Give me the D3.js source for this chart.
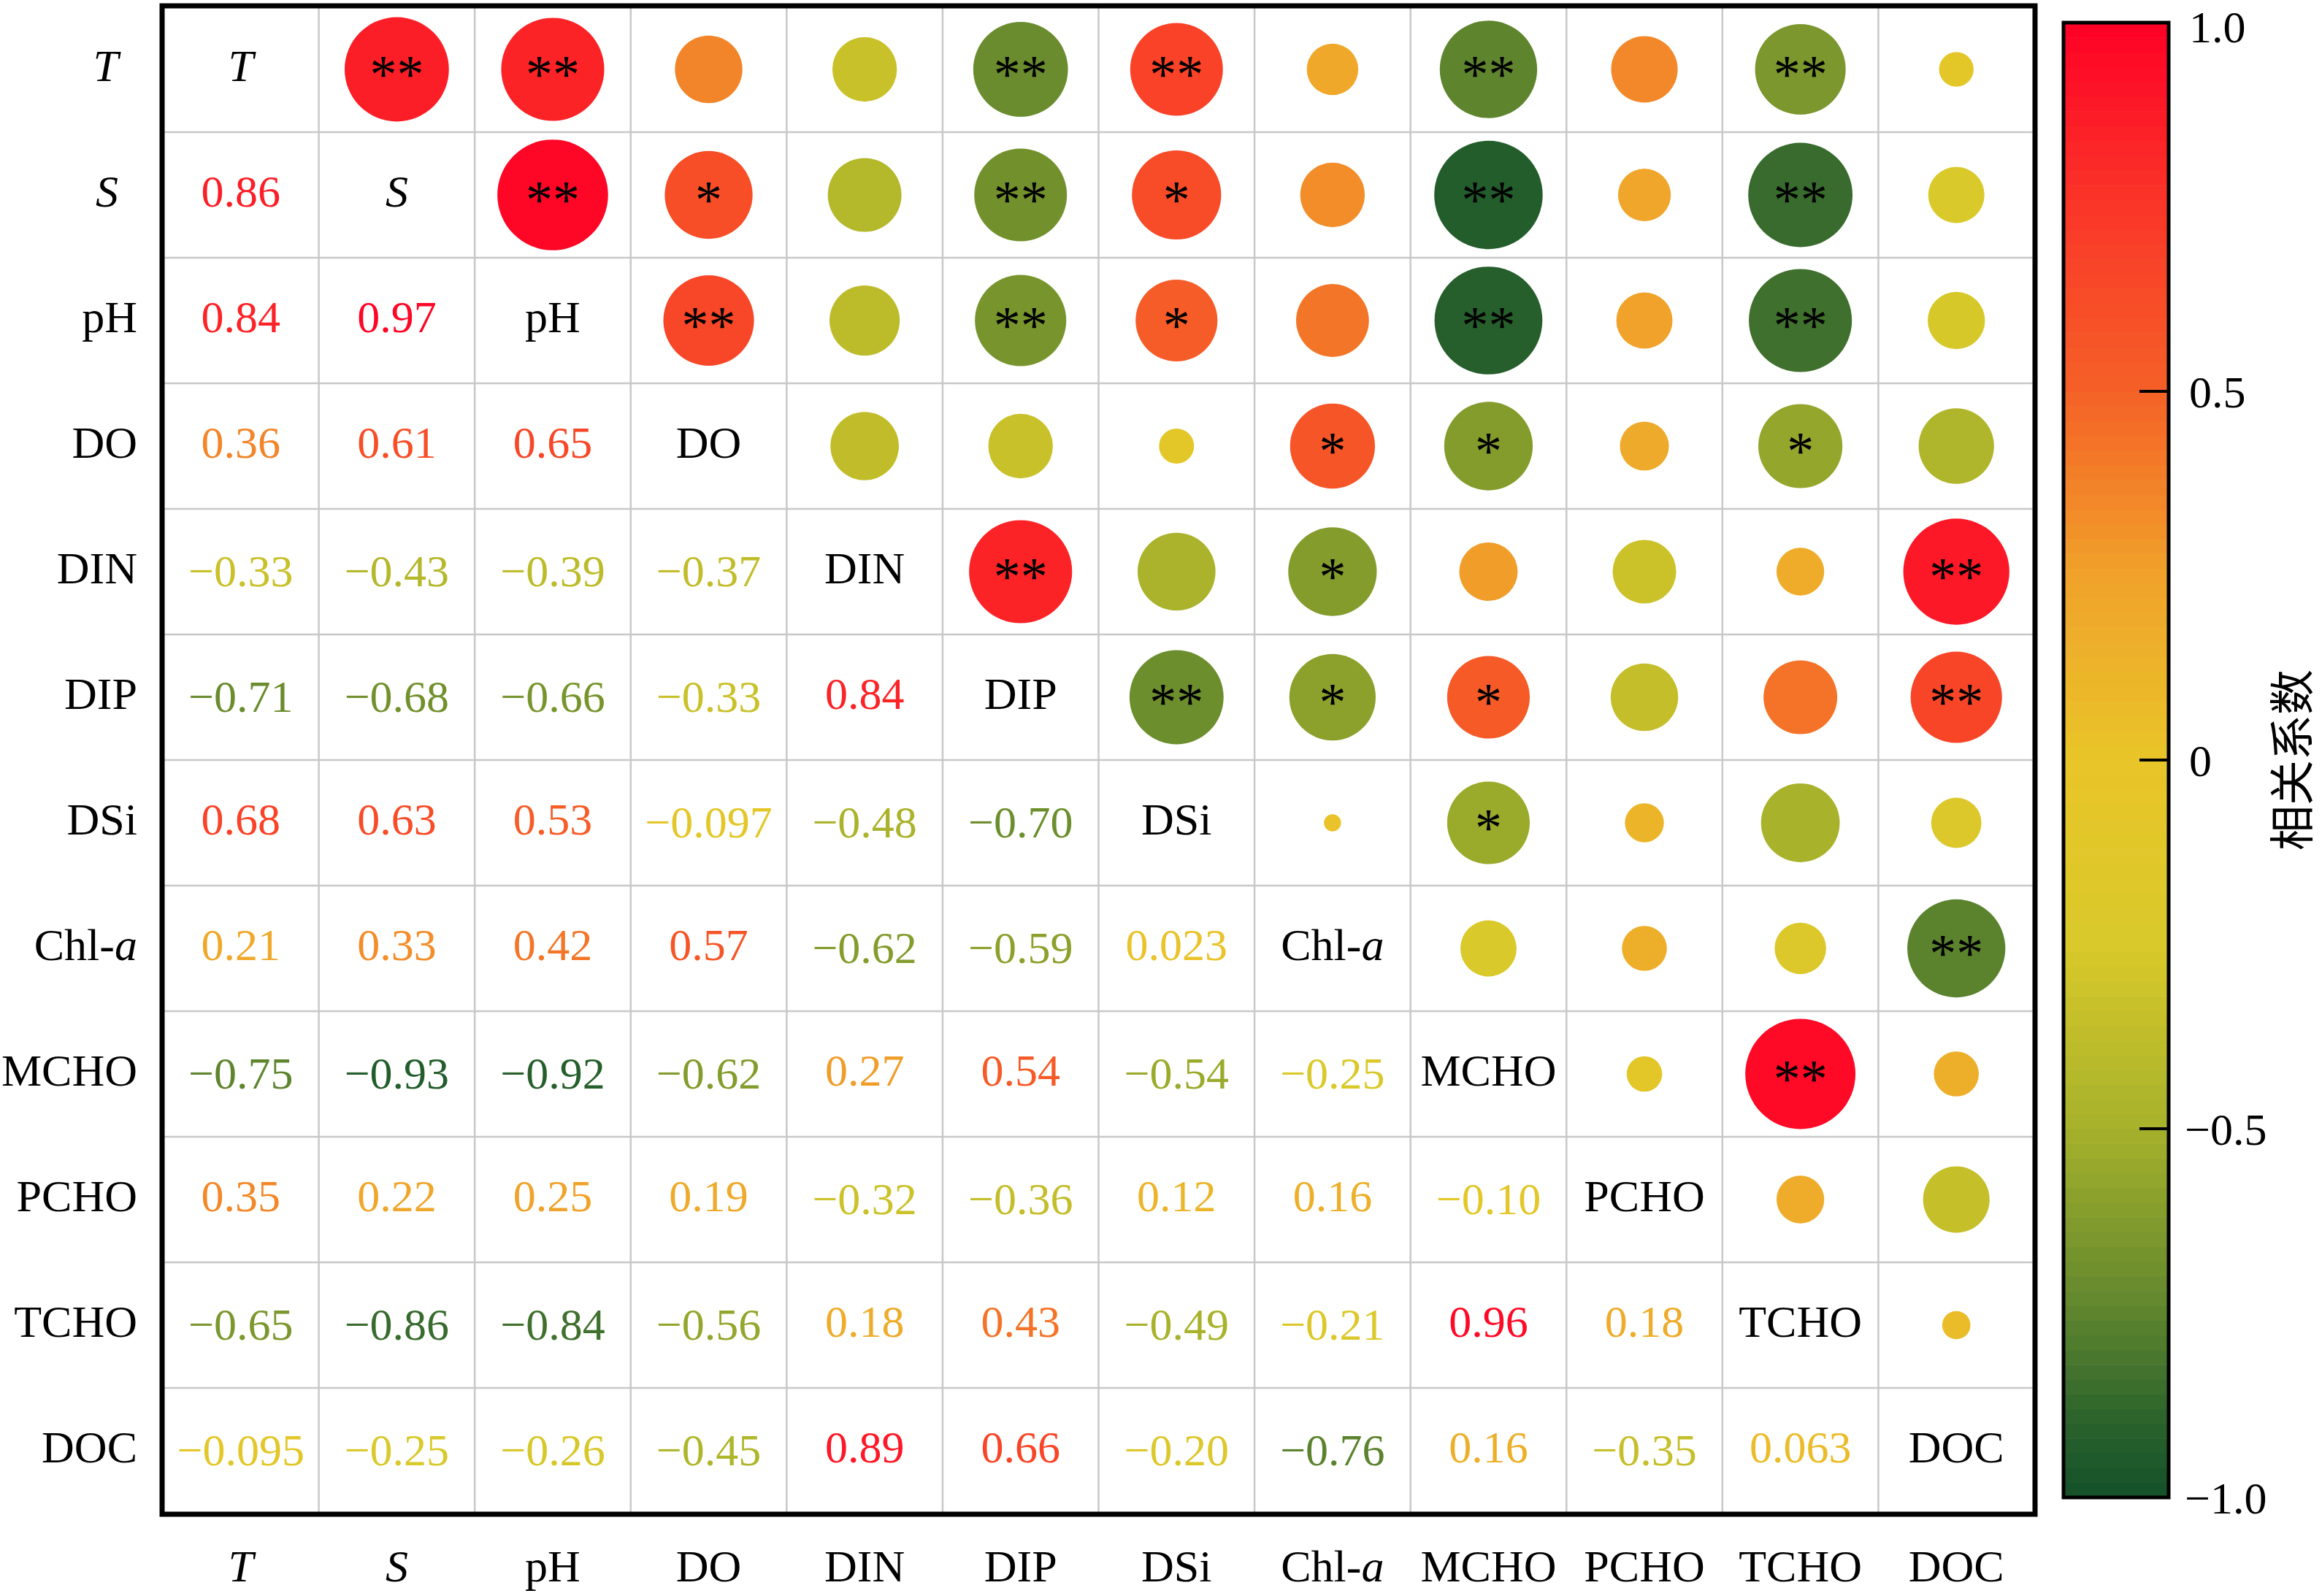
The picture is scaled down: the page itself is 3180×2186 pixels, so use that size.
<!DOCTYPE html>
<html>
<head>
<meta charset="utf-8">
<script src="https://cdn.jsdelivr.net/npm/d3@7"></script>
<style>
  body { margin: 0; background: #fff; }
  svg { display: block; font-family: "Liberation Serif", "Times New Roman", serif; }
</style>
</head>
<body>
<svg id="chart"></svg>
<script>
// variables, in matrix order
var labels = ['T', 'S', 'pH', 'DO', 'DIN', 'DIP', 'DSi', 'Chl-a', 'MCHO', 'PCHO', 'TCHO', 'DOC'];
var italicLabels = ['T', 'S'];

// lower triangle of the correlation matrix (row i, columns 0..i-1)
var corrLower = [
    [],
    [0.86],
    [0.84, 0.97],
    [0.36, 0.61, 0.65],
    [-0.33, -0.43, -0.39, -0.37],
    [-0.71, -0.68, -0.66, -0.33, 0.84],
    [0.68, 0.63, 0.53, -0.097, -0.48, -0.70],
    [0.21, 0.33, 0.42, 0.57, -0.62, -0.59, 0.023],
    [-0.75, -0.93, -0.92, -0.62, 0.27, 0.54, -0.54, -0.25],
    [0.35, 0.22, 0.25, 0.19, -0.32, -0.36, 0.12, 0.16, -0.10],
    [-0.65, -0.86, -0.84, -0.56, 0.18, 0.43, -0.49, -0.21, 0.96, 0.18],
    [-0.095, -0.25, -0.26, -0.45, 0.89, 0.66, -0.20, -0.76, 0.16, -0.35, 0.063]
];

// significance marks of the upper triangle (row i, columns i+1..11)
var sigUpper = [
    ['**', '**', '', '', '**', '**', '', '**', '', '**', ''],
    ['**', '*', '', '**', '*', '', '**', '', '**', ''],
    ['**', '', '**', '*', '', '**', '', '**', ''],
    ['', '', '', '*', '*', '', '*', ''],
    ['**', '', '*', '', '', '', '**'],
    ['**', '*', '*', '', '', '**'],
    ['', '*', '', '', ''],
    ['', '', '', '**'],
    ['', '**', ''],
    ['', ''],
    ['']
];

// colour bar
var colorStops = [-1, -0.9, -0.75, -0.5, -0.25, 0, 0.25, 0.5, 0.75, 1];
var colorRange = ['#14512b', '#2a622c', '#5e852e', '#a6b12b', '#d9c92a', '#e9c529', '#f0a22a', '#f56127', '#fa3628', '#ff0026'];
var colorTicks = [1.0, 0.5, 0, -0.5, -1.0];
var colorTitle = '相关系数';

// ---- layout ----
var W = 3180, H = 2186;
var plot = { left: 223, top: 9, right: 2786, bottom: 2073 };
var n = labels.length;

var svg = d3.select('#chart').attr('width', W).attr('height', H);

var x = d3.scaleBand().domain(d3.range(n)).range([plot.left, plot.right]);
var y = d3.scaleBand().domain(d3.range(n)).range([plot.top, plot.bottom]);
var color = d3.scaleLinear().domain(colorStops).range(colorRange);
var rScale = d3.scaleSqrt().domain([0, 1]).range([0, 77]);

// build the full cell list
var cells = [];
for (var i = 0; i < n; i++) {
    for (var j = 0; j < n; j++) {
        var v = i > j ? corrLower[i][j] : (i < j ? corrLower[j][i] : 1);
        var sig = i < j ? sigUpper[i][j - i - 1] : '';
        cells.push({ i: i, j: j, v: v, sig: sig });
    }
}

function fmt(v) {
    var a = Math.abs(v);
    var s = a < 0.1 ? d3.format('.2r')(a) : d3.format('.2f')(a);
    return (v < 0 ? '\u2212' : '') + s;
}

function writeLabel(sel, name) {
    if (name === 'Chl-a') {
        sel.append('tspan').text('Chl-');
        sel.append('tspan').attr('font-style', 'italic').text('a');
    } else {
        sel.text(name);
        if (italicLabels.indexOf(name) >= 0) sel.attr('font-style', 'italic');
    }
}

// grid lines
var grid = svg.append('g');
grid.selectAll('line.v')
    .data(d3.range(1, n))
    .enter().append('line')
    .attr('x1', function(d) { return x(d); })
    .attr('x2', function(d) { return x(d); })
    .attr('y1', plot.top).attr('y2', plot.bottom)
    .attr('stroke', '#c8c8c8').attr('stroke-width', 2.5);
grid.selectAll('line.h')
    .data(d3.range(1, n))
    .enter().append('line')
    .attr('y1', function(d) { return y(d); })
    .attr('y2', function(d) { return y(d); })
    .attr('x1', plot.left).attr('x2', plot.right)
    .attr('stroke', '#c8c8c8').attr('stroke-width', 2.5);

var cx = function(d) { return x(d.j) + x.bandwidth() / 2; };
var cy = function(d) { return y(d.i) + y.bandwidth() / 2; };

// upper triangle: circles
svg.append('g').selectAll('circle')
    .data(cells.filter(function(d) { return d.i < d.j; }))
    .enter().append('circle')
    .attr('cx', cx).attr('cy', cy)
    .attr('r', function(d) { return rScale(Math.abs(d.v)); })
    .attr('fill', function(d) { return color(d.v); });

svg.append('g').selectAll('text')
    .data(cells.filter(function(d) { return d.i < d.j && d.sig; }))
    .enter().append('text')
    .attr('x', cx)
    .attr('y', function(d) { return cy(d) + 32; })
    .attr('text-anchor', 'middle')
    .attr('font-size', 74)
    .attr('fill', '#000')
    .text(function(d) { return d.sig; });

// lower triangle: values
svg.append('g').selectAll('text')
    .data(cells.filter(function(d) { return d.i > d.j; }))
    .enter().append('text')
    .attr('x', cx)
    .attr('y', function(d) { return cy(d) + (d.v < 0 ? 20 : 16); })
    .attr('text-anchor', 'middle')
    .attr('font-size', 62)
    .attr('fill', function(d) { return color(d.v); })
    .text(function(d) { return fmt(d.v); });

// diagonal: names
svg.append('g').selectAll('text')
    .data(cells.filter(function(d) { return d.i === d.j; }))
    .enter().append('text')
    .attr('x', cx)
    .attr('y', function(d) { return cy(d) + 16; })
    .attr('text-anchor', 'middle')
    .attr('font-size', 62)
    .each(function(d) { writeLabel(d3.select(this), labels[d.i]); });

// row labels (left)
svg.append('g').selectAll('text')
    .data(d3.range(n))
    .enter().append('text')
    .attr('x', function(d) { return italicLabels.indexOf(labels[d]) >= 0 ? 162 : 188; })
    .attr('y', function(d) { return y(d) + y.bandwidth() / 2 + 16; })
    .attr('text-anchor', 'end')
    .attr('font-size', 62)
    .each(function(d) { writeLabel(d3.select(this), labels[d]); });

// column labels (bottom)
svg.append('g').selectAll('text')
    .data(d3.range(n))
    .enter().append('text')
    .attr('x', function(d) { return x(d) + x.bandwidth() / 2; })
    .attr('y', 2166)
    .attr('text-anchor', 'middle')
    .attr('font-size', 62)
    .each(function(d) { writeLabel(d3.select(this), labels[d]); });

// frame
svg.append('rect')
    .attr('x', plot.left - 1).attr('y', plot.top - 1)
    .attr('width', plot.right - plot.left + 2).attr('height', plot.bottom - plot.top + 2)
    .attr('fill', 'none').attr('stroke', '#000').attr('stroke-width', 7);

// ---- colour bar ----
var bar = { left: 2826, right: 2970, top: 31, bottom: 2051 };
var cScale = d3.scaleLinear().domain([-1, 1]).range([bar.bottom, bar.top]);
var nBands = 100;
var bands = d3.range(nBands).map(function(k) { return -1 + (k + 0.5) * 2 / nBands; });
var step = 2 / nBands;

svg.append('g').selectAll('rect')
    .data(bands)
    .enter().append('rect')
    .attr('x', bar.left)
    .attr('width', bar.right - bar.left)
    .attr('y', function(d) { return cScale(d + step / 2); })
    .attr('height', function(d) { return cScale(d - step / 2) - cScale(d + step / 2) + 0.6; })
    .attr('fill', function(d) { return color(d); });

svg.append('rect')
    .attr('x', bar.left).attr('y', bar.top)
    .attr('width', bar.right - bar.left).attr('height', bar.bottom - bar.top)
    .attr('fill', 'none').attr('stroke', '#000').attr('stroke-width', 5);

svg.append('g').selectAll('line')
    .data(colorTicks.filter(function(d) { return Math.abs(d) < 1; }))
    .enter().append('line')
    .attr('x1', bar.right - 40).attr('x2', bar.right)
    .attr('y1', cScale).attr('y2', cScale)
    .attr('stroke', '#000').attr('stroke-width', 4);

svg.append('g').selectAll('text')
    .data(colorTicks)
    .enter().append('text')
    .attr('x', function(d) { return d < 0 ? 2992 : 2998; })
    .attr('y', function(d) { return Math.max(cScale(d) + 22, 58); })
    .attr('font-size', 62)
    .text(function(d) {
        var s = d === 0 ? '0' : d3.format('.1f')(Math.abs(d));
        return (d < 0 ? '\u2212' : '') + s;
    });

svg.append('text')
    .attr('transform', 'translate(3140,' + cScale(0) + ') rotate(-90)')
    .attr('text-anchor', 'middle')
    .attr('dy', '0.35em')
    .attr('font-size', 62)
    .attr('font-family', '"Noto Sans CJK SC", sans-serif')
    .text(colorTitle);
</script>
</body>
</html>
